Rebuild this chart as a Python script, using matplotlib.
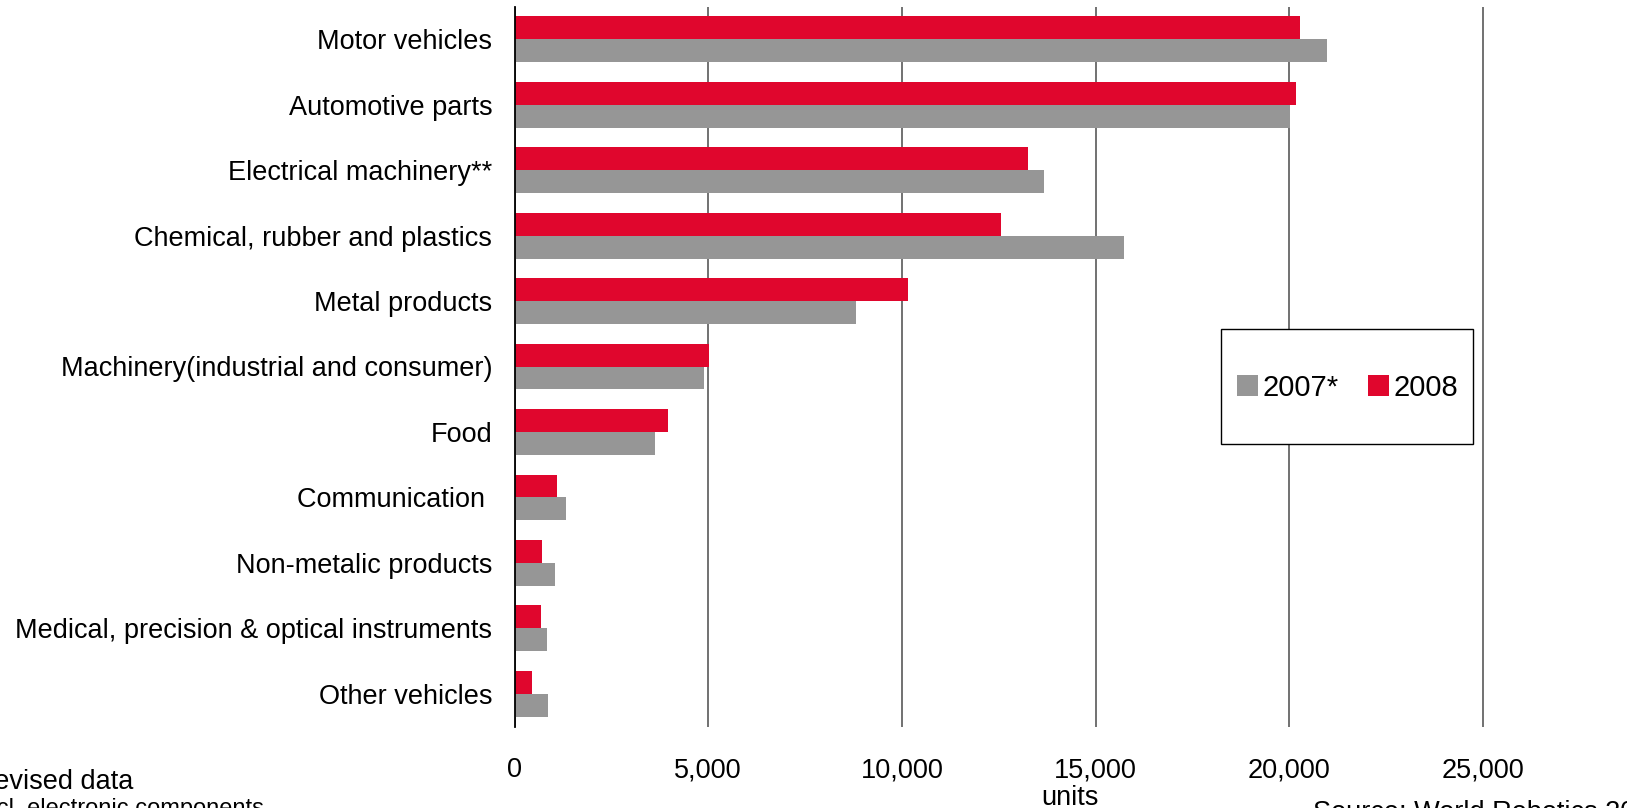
import numpy as np
import matplotlib
matplotlib.use("Agg")
import matplotlib.pyplot as plt
from matplotlib.patches import Rectangle

plt.rcParams['font.family'] = ['Liberation Sans', 'DejaVu Sans']

categories = ["Motor vehicles", "Automotive parts", "Electrical machinery**",
              "Chemical, rubber and plastics", "Metal products",
              "Machinery(industrial and consumer)", "Food", "Communication ",
              "Non-metalic products", "Medical, precision & optical instruments",
              "Other vehicles"]
units_2007 = [20970, 20030, 13670, 15730, 8815, 4890, 3630, 1330, 1045, 840, 865]
units_2008 = [20280, 20170, 13255, 12560, 10150, 5020, 3960, 1100, 710, 685, 450]
ticks = [0, 5000, 10000, 15000, 20000, 25000]

W, H = 1627, 808
fig = plt.figure(figsize=(W / 100, H / 100), dpi=100)
ax = fig.add_axes([514.5 / W, 1 - 726.5 / H, (W - 514.5) / W, 720 / H])

red = '#E0062D'
grey = '#969696'
y = np.arange(len(categories))
h = 0.35
ax.barh(y + h / 2, units_2007, height=h, color=grey, label='2007*', zorder=2)
ax.barh(y - h / 2, units_2008, height=h, color=red, label='2008', zorder=2)

ax.set_ylim(len(categories) - 0.5, -0.5)
ax.set_xlim(0, (W - 514.5) / 0.03874)
ax.set_yticks(y)
ax.set_yticklabels(categories, fontsize=19.5)
ax.set_xticks(ticks)
ax.set_xticklabels(['{:,}'.format(t) for t in ticks], fontsize=19.5)
ax.tick_params(axis='y', length=0, pad=16)
ax.tick_params(axis='x', length=0, pad=22)
ax.grid(axis='x', color='#666666', linewidth=1.3, zorder=0)
ax.set_axisbelow(True)
for s in ['top', 'right', 'bottom']:
    ax.spines[s].set_visible(False)
ax.spines['left'].set_color('black')
ax.spines['left'].set_linewidth(1.3)
ax.spines['left'].set_zorder(3)

# legend box
box = Rectangle((1221 / W, 1 - 444 / H), 252 / W, 115 / H, transform=fig.transFigure,
                facecolor='white', edgecolor='black', linewidth=1, zorder=5)
fig.patches.append(box)
leg = fig.legend(loc='center', bbox_to_anchor=(1347.5 / W, 1 - 388 / H), ncol=2,
                 frameon=False, fontsize=21, handlelength=0.72, handleheight=0.72,
                 handletextpad=0.16, columnspacing=1.0, borderaxespad=0)
leg.set_zorder(6)

# footnotes, partly outside the canvas as in the original
fig.text(1070 / W, 1 - 805 / H, 'units', fontsize=19.5, ha='center', va='baseline')
fig.text(-36 / W, 1 - 789 / H, '*Revised data', fontsize=19.5, va='baseline')
fig.text(-40 / W, 1 - 815 / H, '**incl. electronic components', fontsize=17, va='baseline')
fig.text(1313 / W, 1 - 820 / H, 'Source: World Robotics 2009', fontsize=19.5, va='baseline')

fig.savefig('out.png', dpi=100)
